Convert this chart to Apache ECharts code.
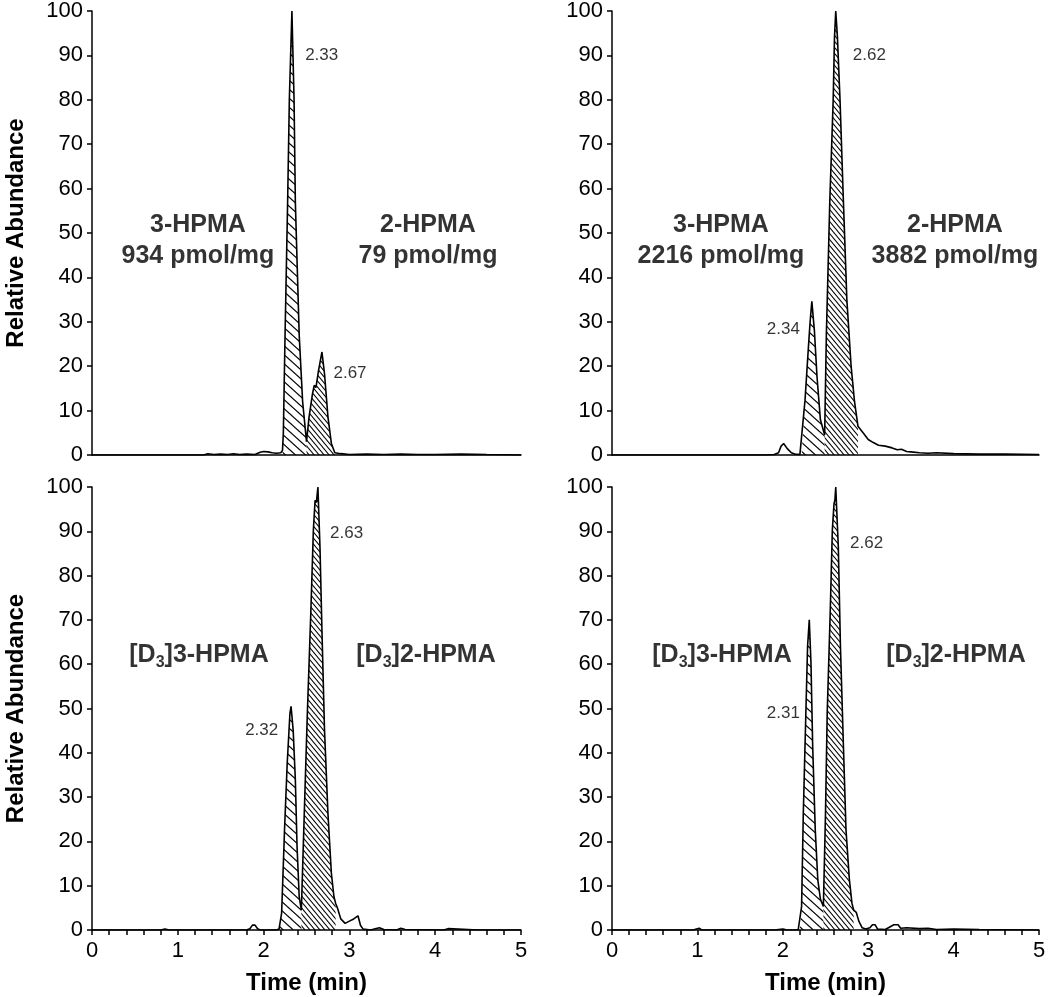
<!DOCTYPE html>
<html><head><meta charset="utf-8">
<script src="https://cdn.jsdelivr.net/npm/echarts@6/dist/echarts.min.js"></script>
<style>html,body{margin:0;padding:0;background:#fff}#c{width:1050px;height:997px}</style>
</head><body><div id="c"></div>
<script>
// ---------- data ----------
const xTickMin = 0, xTickMax = 5, xTickStep = 1;
const yTickMin = 0, yTickMax = 100, yTickStep = 10;

// top-left panel
const tlTime = [0, 0.5, 1.0, 1.3, 1.35, 1.42, 1.5, 1.58, 1.65, 1.72, 1.8, 1.9, 1.96, 2.0, 2.05, 2.1, 2.15, 2.2, 2.22, 2.23, 2.25, 2.28, 2.30, 2.33, 2.355, 2.37, 2.415, 2.455, 2.50, 2.53, 2.57, 2.59, 2.61, 2.64, 2.68, 2.71, 2.75, 2.79, 2.83, 2.9, 3.0, 3.2, 3.4, 3.6, 3.8, 4.0, 4.3, 4.6, 5.0];
const tlAbund = [0, 0, 0, 0, 0.3, 0.1, 0.2, 0.1, 0.3, 0.1, 0.2, 0.1, 0.6, 0.8, 0.7, 0.5, 0.4, 0.5, 1.0, 4.9, 27, 57, 80, 100, 80, 57, 27, 12, 3, 8.6, 13.8, 15.7, 15.2, 19, 23.2, 18.3, 8.6, 2.6, 0.5, 0.3, 0.1, 0.2, 0.1, 0.2, 0.1, 0.1, 0.2, 0.1, 0];
const tlHatchA = [2.22, 2.50];
const tlHatchB = [2.50, 2.83];
const tlPeakLabels = [[2.677, 90.1, '2.33'], [3.007, 18.3, '2.67']];
const tlNames = [[1.235, 48.2, '3-HPMA\n934 pmol/mg'], [3.916, 48.2, '2-HPMA\n79 pmol/mg']];

// top-right panel
const trTime = [0, 0.5, 1.0, 1.5, 1.8, 1.9, 1.95, 1.98, 2.01, 2.05, 2.1, 2.14, 2.2, 2.22, 2.26, 2.30, 2.32, 2.34, 2.37, 2.40, 2.44, 2.49, 2.51, 2.55, 2.59, 2.605, 2.62, 2.64, 2.67, 2.71, 2.75, 2.80, 2.84, 2.88, 2.94, 3.0, 3.06, 3.12, 3.2, 3.28, 3.34, 3.39, 3.45, 3.5, 3.6, 3.7, 3.8, 4.0, 4.3, 4.6, 5.0];
const trAbund = [0, 0, 0, 0, 0, 0.1, 0.5, 2.0, 2.6, 1.5, 0.5, 0.2, 0.1, 0.2, 12.3, 24.3, 30, 34.6, 28, 17.8, 8, 4.5, 27, 57, 80, 94, 100, 94, 80, 57, 35, 20, 12, 6.5, 5.0, 3.5, 2.8, 2.2, 2.0, 1.6, 1.2, 1.3, 0.8, 0.7, 0.5, 0.4, 0.5, 0.3, 0.2, 0.2, 0.1];
const trHatchA = [2.22, 2.49];
const trHatchB = [2.49, 2.88];
const trPeakLabels = [[3.013, 90.1, '2.62'], [2.006, 28.4, '2.34']];
const trNames = [[1.276, 48.2, '3-HPMA\n2216 pmol/mg'], [4.016, 48.2, '2-HPMA\n3882 pmol/mg']];

// bottom-left panel
const blTime = [0, 0.8, 0.85, 0.9, 1.5, 1.8, 1.84, 1.87, 1.9, 1.93, 1.96, 2.15, 2.18, 2.21, 2.244, 2.275, 2.307, 2.32, 2.345, 2.37, 2.39, 2.415, 2.44, 2.474, 2.51, 2.55, 2.58, 2.60, 2.615, 2.633, 2.657, 2.68, 2.71, 2.75, 2.79, 2.82, 2.84, 2.86, 2.9, 2.95, 3.0, 3.05, 3.1, 3.13, 3.16, 3.25, 3.3, 3.35, 3.4, 3.55, 3.6, 3.65, 4.1, 4.15, 4.5, 5.0];
const blAbund = [0, 0, 0.2, 0, 0, 0, 0.3, 1.1, 1.1, 0.3, 0, 0, 0.2, 3.8, 22.6, 37.6, 48.9, 50.5, 45, 33.9, 18.8, 7.5, 4.5, 26.3, 49, 71.5, 90.3, 97, 96.5, 100, 86.5, 67.7, 45.1, 26.3, 12.8, 7.5, 6, 5, 2.5, 1.5, 2.0, 2.5, 3.2, 1.0, 0.2, 0, 0.3, 0.5, 0.1, 0, 0.4, 0.1, 0, 0.3, 0, 0];
const blHatchA = [2.18, 2.44];
const blHatchB = [2.44, 2.84];
const blPeakLabels = [[2.968, 89.5, '2.63'], [1.978, 45.1, '2.32']];
const blNames = [[1.247, 62, '[D{s|3}]3-HPMA'], [3.893, 62, '[D{s|3}]2-HPMA']];

// bottom-right panel
const brTime = [0, 0.5, 0.95, 0.97, 1.02, 1.05, 1.5, 1.9, 2.0, 2.05, 2.18, 2.20, 2.22, 2.24, 2.27, 2.29, 2.31, 2.33, 2.35, 2.38, 2.41, 2.44, 2.475, 2.50, 2.52, 2.555, 2.58, 2.60, 2.61, 2.62, 2.65, 2.675, 2.71, 2.74, 2.78, 2.81, 2.83, 2.86, 2.89, 2.93, 2.97, 3.02, 3.05, 3.08, 3.11, 3.2, 3.3, 3.35, 3.38, 3.45, 3.6, 3.7, 3.8, 4.0, 4.3, 5.0];
const brAbund = [0, 0, 0, 0.4, 0.4, 0, 0, 0, 0.2, 0, 0, 0.3, 5.3, 26.3, 49, 64, 70, 60.2, 41.4, 22.6, 11.3, 7, 5.3, 26.3, 49, 71.5, 90.3, 96.3, 97, 100, 86.5, 64, 41.4, 22.6, 11.3, 6, 4.5, 4, 2, 0.5, 0.2, 0.5, 1.2, 1.2, 0.2, 0.1, 1.2, 1.2, 0.4, 0.5, 0.3, 0.4, 0.1, 0.2, 0.1, 0];
const brHatchA = [2.20, 2.475];
const brHatchB = [2.475, 2.83];
const brPeakLabels = [[2.982, 87.3, '2.62'], [2.006, 48.9, '2.31']];
const brNames = [[1.288, 62, '[D{s|3}]3-HPMA'], [4.028, 62, '[D{s|3}]2-HPMA']];

const xName = 'Time (min)';
const yName = 'Relative Abundance';

// ---------- rendering ----------
const FONT = '"Liberation Sans", Arial, Helvetica, sans-serif';

function hatchCanvas(w, h, lw) {
  const c = document.createElement('canvas');
  c.width = w; c.height = h;
  const g = c.getContext('2d');
  g.strokeStyle = '#000';
  g.lineWidth = lw;
  g.beginPath();
  g.moveTo(-w * 0.2, -h * 0.2); g.lineTo(w * 1.2, h * 1.2);
  g.moveTo(-w, 0); g.lineTo(w, h * 2);
  g.moveTo(0, -h); g.lineTo(w * 2, h);
  g.moveTo(-w * 1.2, -h * 0.2 - h); g.lineTo(w * 0.2, h * 0.2);
  g.moveTo(w * 0.8, h * 0.8); g.lineTo(w * 2.2, h * 2.2);
  g.stroke();
  return c;
}
const sparse = { image: hatchCanvas(10, 9, 1.2), repeat: 'repeat' };
const dense = { image: hatchCanvas(5, 6, 1.1), repeat: 'repeat' };

const panels = [
  { t: tlTime, a: tlAbund, hA: tlHatchA, hB: tlHatchB, pk: tlPeakLabels, nm: tlNames },
  { t: trTime, a: trAbund, hA: trHatchA, hB: trHatchB, pk: trPeakLabels, nm: trNames },
  { t: blTime, a: blAbund, hA: blHatchA, hB: blHatchB, pk: blPeakLabels, nm: blNames },
  { t: brTime, a: brAbund, hA: brHatchA, hB: brHatchB, pk: brPeakLabels, nm: brNames }
];

const grids = [
  { left: 92, top: 9, width: 429, height: 446 },
  { left: 612, top: 9, width: 427, height: 446 },
  { left: 92, top: 487, width: 429, height: 443 },
  { left: 612, top: 487, width: 427, height: 443 }
];

const axisLine = { show: true, lineStyle: { color: '#000', width: 1.5 } };
const xAxes = [], yAxes = [], series = [];
panels.forEach((p, i) => {
  const bottom = i >= 2, left = i % 2 === 0;
  xAxes.push({
    type: 'value', gridIndex: i, min: xTickMin, max: xTickMax, interval: xTickStep,
    axisLine: axisLine, splitLine: { show: false },
    axisTick: { show: bottom, length: 5, lineStyle: { color: '#000', width: 1.5 } },
    minorTick: { show: bottom, splitNumber: 5, length: 5, lineStyle: { color: '#000', width: 1.5 } },
    axisLabel: { show: bottom, color: '#000', fontSize: 22, fontFamily: FONT, margin: 10 },
    name: bottom ? xName : '', nameLocation: 'middle', nameGap: 41,
    nameTextStyle: { color: '#000', fontSize: 24, fontWeight: 'bold', fontFamily: FONT }
  });
  yAxes.push({
    type: 'value', gridIndex: i, min: yTickMin, max: yTickMax, interval: yTickStep,
    axisLine: axisLine, splitLine: { show: false },
    axisTick: { show: true, length: 5, lineStyle: { color: '#000', width: 1.5 } },
    axisLabel: { color: '#000', fontSize: 22, fontFamily: FONT, margin: 9 },
    name: left ? yName : '', nameLocation: 'middle', nameGap: 64,
    nameTextStyle: { color: '#000', fontSize: 24, fontWeight: 'bold', fontFamily: FONT }
  });
  const pts = p.t.map((t, k) => [t, p.a[k]]);
  const sub = r => pts.filter(d => d[0] >= r[0] - 1e-9 && d[0] <= r[1] + 1e-9);
  series.push({
    type: 'line', xAxisIndex: i, yAxisIndex: i, data: sub(p.hA), showSymbol: false, silent: true,
    lineStyle: { width: 0, opacity: 0 }, areaStyle: { color: sparse, opacity: 1 }, z: 2
  });
  series.push({
    type: 'line', xAxisIndex: i, yAxisIndex: i, data: sub(p.hB), showSymbol: false, silent: true,
    lineStyle: { width: 0, opacity: 0 }, areaStyle: { color: dense, opacity: 1 }, z: 2
  });
  series.push({
    type: 'line', xAxisIndex: i, yAxisIndex: i, data: pts, showSymbol: false, silent: true,
    lineStyle: { color: '#000', width: 1.6 }, z: 3
  });
  series.push({
    type: 'scatter', xAxisIndex: i, yAxisIndex: i, symbolSize: 1, silent: true,
    itemStyle: { color: 'rgba(0,0,0,0)' },
    data: p.pk.map(d => ({ value: [d[0], d[1]], name: d[2] })),
    label: { show: true, position: 'inside', formatter: q => q.name, color: '#000',
      textBorderWidth: 0, fontSize: 17, fontFamily: FONT }, z: 4
  });
  series.push({
    type: 'scatter', xAxisIndex: i, yAxisIndex: i, symbolSize: 1, silent: true,
    itemStyle: { color: 'rgba(0,0,0,0)' },
    data: p.nm.map(d => ({ value: [d[0], d[1]], name: d[2] })),
    label: { show: true, position: 'inside', formatter: q => q.name, color: '#000',
      textBorderWidth: 0, fontSize: 25, fontWeight: 'bold', fontFamily: FONT, lineHeight: 31, align: 'center',
      rich: { s: { fontSize: 16, fontWeight: 'bold', fontFamily: FONT, color: '#000',
        verticalAlign: 'bottom', lineHeight: 31, padding: [12, 0, 0, 0] } } }, z: 4
  });
});

const chart = echarts.init(document.getElementById('c'), null, { renderer: 'canvas' });
chart.setOption({
  animation: false,
  backgroundColor: '#fff',
  grid: grids,
  xAxis: xAxes,
  yAxis: yAxes,
  series: series
});
</script>
</body></html>
